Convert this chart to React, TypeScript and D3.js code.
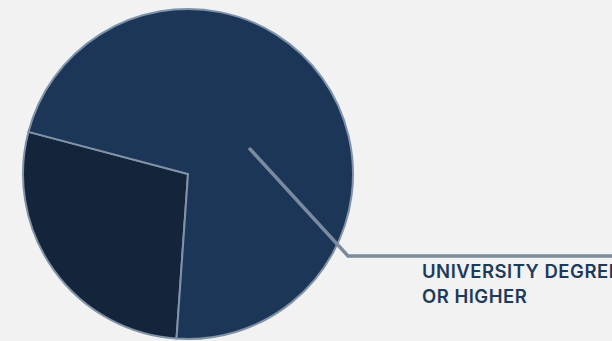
import React from "react";
import * as d3 from "d3";

const categories = ["Other", "University degree or higher"];
const values = [28, 72];
const labelLines = ["UNIVERSITY DEGREE", "OR HIGHER"];

const W = 612;
const H = 341;
const colors = ["#13243b", "#1b3657"];

export default function App() {
  const cx = 188;
  const cy = 174;
  const r = 165;
  const start = (184 * Math.PI) / 180;
  const pie = d3
    .pie<number>()
    .sort(null)
    .value((d) => d)
    .startAngle(start)
    .endAngle(start + 2 * Math.PI);
  const arcs = pie(values);
  const arc = d3.arc<d3.PieArcDatum<number>>().innerRadius(0).outerRadius(r);

  // leader line for main slice
  const p0: [number, number] = [cx + 62, cy - 25];
  const p1: [number, number] = [cx + 160, cy + 82];
  const p2: [number, number] = [W, cy + 82];
  const line = d3.line()([p0, p1, p2]) || "";

  return (
    <svg
      width={W}
      height={H}
      style={{ position: "absolute", left: 0, top: 0, background: "#f2f2f2" }}
    >
      <rect x={0} y={0} width={W} height={H} fill="#f2f2f2" />
      <g transform={`translate(${cx},${cy})`}>
        {arcs.map((a, i) => (
          <path
            key={categories[i]}
            d={arc(a) || ""}
            fill={colors[i]}
            stroke="#8092a8"
            strokeWidth={2}
            strokeLinejoin="miter"
          />
        ))}
      </g>
      <path
        d={line}
        fill="none"
        stroke="#7a8ba0"
        strokeWidth={3.5}
        strokeLinecap="round"
        strokeLinejoin="miter"
      />
      <text
        x={422}
        y={278}
        fontFamily="Inter, 'Open Sans', sans-serif"
        fontWeight={600}
        fontSize={18.5}
        letterSpacing={0.5}
        fill="#1e3a5a"
      >
        {labelLines.map((t, i) => (
          <tspan key={i} x={422} dy={i === 0 ? 0 : 25}>
            {t}
          </tspan>
        ))}
      </text>
    </svg>
  );
}
